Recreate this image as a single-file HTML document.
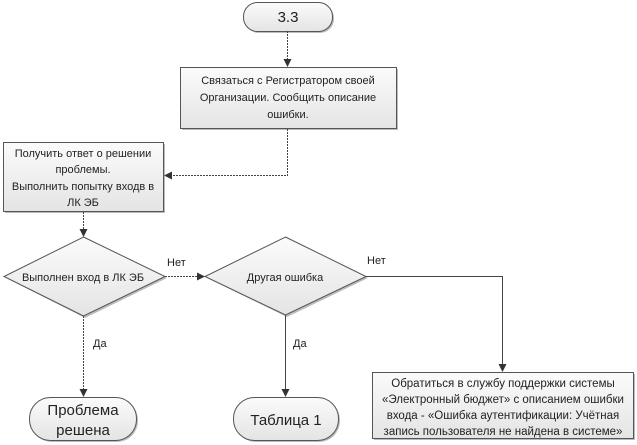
<!DOCTYPE html>
<html><head><meta charset="utf-8"><style>
body{margin:0;background:#fff;}
svg{display:block;font-family:"Liberation Sans",sans-serif;}
</style></head><body>
<svg width="637" height="445" viewBox="0 0 637 445" xmlns="http://www.w3.org/2000/svg">
<defs>
<linearGradient id="g" x1="0" y1="0" x2="0" y2="1"><stop offset="0" stop-color="#fbfbfb"/><stop offset="1" stop-color="#e4e4e4"/></linearGradient>
<marker id="a" markerWidth="8" markerHeight="8" refX="7" refY="4" orient="auto" markerUnits="userSpaceOnUse"><path d="M0,0 L8,4 L0,8 z" fill="#333"/></marker>
</defs>
<g fill="#bbb">
<rect x="245" y="4" width="89" height="29" rx="14"/>
<rect x="182" y="69" width="216" height="61"/>
<rect x="5" y="144" width="160" height="69"/>
<polygon points="85,239 167,278 85,318 6,278"/>
<polygon points="287,239 368,278 287,317 207,278"/>
<rect x="31" y="399" width="107" height="43" rx="21"/>
<rect x="235" y="399" width="105" height="43" rx="21"/>
<rect x="374" y="374" width="261" height="66"/>
</g>
<g fill="url(#g)" stroke="#555" stroke-width="1">
<rect x="243.5" y="2.5" width="89" height="29" rx="14"/>
<rect x="180.5" y="67.5" width="216" height="61"/>
<rect x="3.5" y="142.5" width="160" height="69"/>
<polygon points="83.5,237 165,276.5 83.5,316 4,276.5"/>
<polygon points="285.5,237 366,276.5 285.5,315 205,276.5"/>
<rect x="29.5" y="397.5" width="107" height="43" rx="21"/>
<rect x="233.5" y="397.5" width="105" height="43" rx="21"/>
<rect x="372.5" y="372.5" width="261" height="66"/>
</g>
<g fill="none" stroke="#444" stroke-width="1">
<path d="M287.5,31 V66" stroke-dasharray="2,1" marker-end="url(#a)"/>
<path d="M287.5,129 V175.5 H165" stroke-dasharray="2,1" marker-end="url(#a)"/>
<path d="M83.5,212 V236" stroke-dasharray="2,1" marker-end="url(#a)"/>
<path d="M165,276.5 H204" stroke-dasharray="2,1" marker-end="url(#a)"/>
<path d="M83.5,316 V396" stroke-dasharray="2,1" marker-end="url(#a)"/>
<path d="M285.5,315 V396" marker-end="url(#a)"/>
<path d="M366,276.5 H502.5 V371" marker-end="url(#a)"/>
</g>
<g fill="#222" font-size="11" text-anchor="middle">
<text x="288" y="22" font-size="15">3.3</text>
<text x="288" y="84">Связаться с Регистратором своей</text>
<text x="288" y="101">Организации. Сообщить описание</text>
<text x="288" y="118">ошибки.</text>
<text x="83" y="157">Получить ответ о решении</text>
<text x="83" y="173">проблемы.</text>
<text x="83" y="190">Выполнить попытку входв в</text>
<text x="83" y="206">ЛК ЭБ</text>
<text x="83" y="281">Выполнен вход в ЛК ЭБ</text>
<text x="285" y="281">Другая ошибка</text>
<text x="83" y="415" font-size="15">Проблема</text>
<text x="83" y="435" font-size="15">решена</text>
<text x="286" y="425" font-size="15">Таблица 1</text>
<text x="503" y="387" font-size="11.5">Обратиться в службу поддержки системы</text>
<text x="503" y="403" font-size="11.5">«Электронный бюджет» с описанием ошибки</text>
<text x="503" y="419" font-size="11.5">входа - «Ошибка аутентификации: Учётная</text>
<text x="503" y="435" font-size="11.5">запись пользователя не найдена в системе»</text>
</g>
<g fill="#222" font-size="11">
<text x="167" y="266">Нет</text>
<text x="367" y="264">Нет</text>
<text x="93" y="347">Да</text>
<text x="293" y="347">Да</text>
</g>
</svg>
</body></html>
